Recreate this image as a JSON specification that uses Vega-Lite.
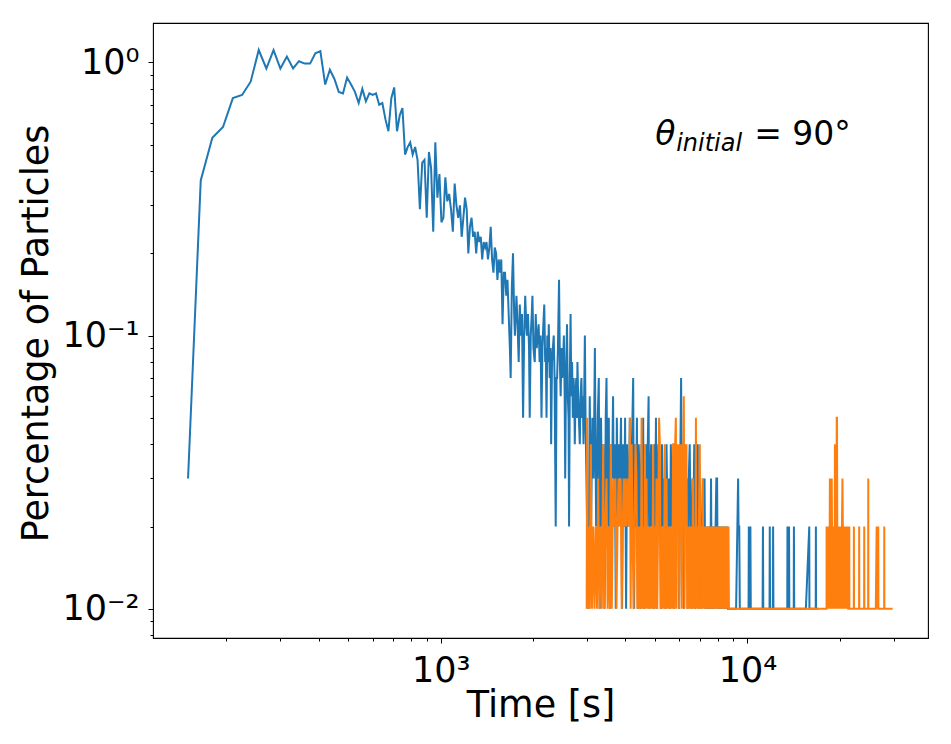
{
  "$schema": "https://vega.github.io/schema/vega-lite/v6.json",
  "width": 775,
  "height": 615,
  "autosize": {"type": "none"},
  "padding": {"left": 153, "top": 23, "right": 23, "bottom": 106},
  "background": "white",
  "datasets": {
    "blue": [
      {"t":150,"p":0.03},{"t":165,"p":0.37},{"t":180,"p":0.53},{"t":195,"p":0.58},{"t":210,"p":0.74},{"t":225,"p":0.76},{"t":240,"p":0.85},{"t":255,"p":1.11},{"t":270,"p":0.95},{"t":285,"p":1.11},
      {"t":300,"p":0.95},{"t":315,"p":1.05},{"t":330,"p":0.95},{"t":345,"p":1.01},{"t":360,"p":0.99},{"t":375,"p":0.99},{"t":390,"p":1.08},{"t":405,"p":1.1},{"t":420,"p":0.83},{"t":435,"p":0.94},
      {"t":450,"p":0.87},{"t":465,"p":0.78},{"t":480,"p":0.77},{"t":495,"p":0.88},{"t":510,"p":0.83},{"t":525,"p":0.78},{"t":540,"p":0.71},{"t":555,"p":0.8},{"t":570,"p":0.72},{"t":585,"p":0.77},
      {"t":600,"p":0.76},{"t":615,"p":0.77},{"t":630,"p":0.7},{"t":645,"p":0.71},{"t":660,"p":0.62},{"t":675,"p":0.56},{"t":690,"p":0.74},{"t":705,"p":0.81},{"t":720,"p":0.56},{"t":735,"p":0.64},
      {"t":750,"p":0.68},{"t":765,"p":0.46},{"t":780,"p":0.49},{"t":795,"p":0.51},{"t":810,"p":0.46},{"t":825,"p":0.49},{"t":840,"p":0.44},{"t":855,"p":0.29},{"t":870,"p":0.43},{"t":885,"p":0.44},
      {"t":900,"p":0.27},{"t":915,"p":0.47},{"t":930,"p":0.41},{"t":945,"p":0.24},{"t":960,"p":0.51},{"t":975,"p":0.32},{"t":990,"p":0.39},{"t":1005,"p":0.26},{"t":1020,"p":0.27},{"t":1035,"p":0.38},
      {"t":1050,"p":0.31},{"t":1065,"p":0.33},{"t":1080,"p":0.29},{"t":1095,"p":0.24},{"t":1110,"p":0.36},{"t":1125,"p":0.3},{"t":1140,"p":0.27},{"t":1155,"p":0.3},{"t":1170,"p":0.23},{"t":1185,"p":0.27},
      {"t":1200,"p":0.32},{"t":1215,"p":0.29},{"t":1230,"p":0.2},{"t":1245,"p":0.25},{"t":1260,"p":0.27},{"t":1275,"p":0.23},{"t":1290,"p":0.24},{"t":1305,"p":0.2},{"t":1320,"p":0.24},{"t":1335,"p":0.22},
      {"t":1350,"p":0.23},{"t":1365,"p":0.19},{"t":1380,"p":0.22},{"t":1395,"p":0.21},{"t":1410,"p":0.22},{"t":1425,"p":0.19},{"t":1440,"p":0.21},{"t":1455,"p":0.25},{"t":1470,"p":0.19},{"t":1485,"p":0.17},
      {"t":1500,"p":0.21},{"t":1515,"p":0.2},{"t":1530,"p":0.16},{"t":1545,"p":0.19},{"t":1560,"p":0.17},{"t":1575,"p":0.19},{"t":1590,"p":0.11},{"t":1605,"p":0.17},{"t":1620,"p":0.17},{"t":1635,"p":0.14},
      {"t":1650,"p":0.16},{"t":1665,"p":0.12},{"t":1680,"p":0.09},{"t":1690,"p":0.07},{"t":1705,"p":0.15},{"t":1720,"p":0.2},{"t":1735,"p":0.12},{"t":1745,"p":0.1},{"t":1765,"p":0.14},{"t":1780,"p":0.11},
      {"t":1795,"p":0.08},{"t":1810,"p":0.13},{"t":1825,"p":0.1},{"t":1840,"p":0.12},{"t":1855,"p":0.05},{"t":1870,"p":0.1},{"t":1885,"p":0.14},{"t":1900,"p":0.11},{"t":1910,"p":0.1},{"t":1925,"p":0.12},
      {"t":1940,"p":0.09},{"t":1950,"p":0.05},{"t":1965,"p":0.1},{"t":1980,"p":0.12},{"t":1990,"p":0.14},{"t":2005,"p":0.09},{"t":2025,"p":0.08},{"t":2040,"p":0.12},{"t":2055,"p":0.09},{"t":2070,"p":0.1},
      {"t":2085,"p":0.11},{"t":2100,"p":0.08},{"t":2115,"p":0.1},{"t":2130,"p":0.05},{"t":2145,"p":0.09},{"t":2160,"p":0.11},{"t":2175,"p":0.13},{"t":2190,"p":0.08},{"t":2200,"p":0.09},{"t":2212,"p":0.05},
      {"t":2225,"p":0.1},{"t":2240,"p":0.08},{"t":2250,"p":0.11},{"t":2265,"p":0.07},{"t":2280,"p":0.09},{"t":2290,"p":0.04},{"t":2305,"p":0.08},{"t":2320,"p":0.09},{"t":2335,"p":0.1},{"t":2350,"p":0.07},
      {"t":2370,"p":0.02},{"t":2385,"p":0.07},{"t":2395,"p":0.07},{"t":2410,"p":0.09},{"t":2430,"p":0.16},{"t":2445,"p":0.08},{"t":2460,"p":0.06},{"t":2475,"p":0.09},{"t":2490,"p":0.07},{"t":2505,"p":0.08},
      {"t":2520,"p":0.1},{"t":2535,"p":0.06},{"t":2545,"p":0.03},{"t":2560,"p":0.07},{"t":2580,"p":0.11},{"t":2595,"p":0.06},{"t":2610,"p":0.05},{"t":2620,"p":0.02},{"t":2635,"p":0.07},{"t":2650,"p":0.12},
      {"t":2665,"p":0.06},{"t":2680,"p":0.08},{"t":2695,"p":0.05},{"t":2710,"p":0.07},{"t":2725,"p":0.06},{"t":2735,"p":0.04},{"t":2750,"p":0.06},{"t":2765,"p":0.07},{"t":2780,"p":0.05},{"t":2790,"p":0.08},
      {"t":2805,"p":0.06},{"t":2820,"p":0.05},{"t":2840,"p":0.04},{"t":2855,"p":0.06},{"t":2875,"p":0.07},{"t":2890,"p":0.05},{"t":2905,"p":0.06},{"t":2920,"p":0.04},{"t":2935,"p":0.06},{"t":2950,"p":0.1},
      {"t":2965,"p":0.05},{"t":2985,"p":0.03},{"t":3000,"p":0.02},{"t":3030,"p":0.01},{"t":3060,"p":0.06},{"t":3090,"p":0.02},{"t":3120,"p":0.05},{"t":3150,"p":0.03},{"t":3180,"p":0.09},{"t":3210,"p":0.02},
      {"t":3235,"p":0.03},{"t":3250,"p":0.05},{"t":3275,"p":0.07},{"t":3300,"p":0.01},{"t":3330,"p":0.05},{"t":3360,"p":0.02},{"t":3390,"p":0.04},{"t":3420,"p":0.01},{"t":3450,"p":0.05},{"t":3470,"p":0.07},
      {"t":3500,"p":0.02},{"t":3530,"p":0.05},{"t":3560,"p":0.01},{"t":3590,"p":0.04},{"t":3620,"p":0.03},{"t":3645,"p":0.06},{"t":3670,"p":0.02},{"t":3695,"p":0.04},{"t":3720,"p":0.01},{"t":3750,"p":0.05},
      {"t":3780,"p":0.02},{"t":3810,"p":0.04},{"t":3840,"p":0.03},{"t":3870,"p":0.05},{"t":3900,"p":0.01},{"t":3930,"p":0.04},{"t":3960,"p":0.02},{"t":3990,"p":0.05},{"t":4020,"p":0.01},{"t":4050,"p":0.04},
      {"t":4080,"p":0.02},{"t":4110,"p":0.03},{"t":4135,"p":0.05},{"t":4165,"p":0.02},{"t":4200,"p":0.04},{"t":4240,"p":0.07},{"t":4270,"p":0.01},{"t":4300,"p":0.04},{"t":4330,"p":0.02},{"t":4360,"p":0.05},
      {"t":4390,"p":0.01},{"t":4420,"p":0.04},{"t":4450,"p":0.03},{"t":4480,"p":0.01},{"t":4510,"p":0.04},{"t":4540,"p":0.02},{"t":4570,"p":0.05},{"t":4600,"p":0.01},{"t":4630,"p":0.03},{"t":4660,"p":0.04},
      {"t":4700,"p":0.02},{"t":4730,"p":0.04},{"t":4760,"p":0.06},{"t":4790,"p":0.01},{"t":4820,"p":0.03},{"t":4850,"p":0.04},{"t":4880,"p":0.02},{"t":4910,"p":0.03},{"t":4940,"p":0.01},{"t":4970,"p":0.04},
      {"t":5000,"p":0.02},{"t":5030,"p":0.05},{"t":5060,"p":0.01},{"t":5090,"p":0.03},{"t":5120,"p":0.04},{"t":5150,"p":0.02},{"t":5180,"p":0.03},{"t":5220,"p":0.01},{"t":5265,"p":0.04},{"t":5310,"p":0.02},
      {"t":5355,"p":0.03},{"t":5400,"p":0.01},{"t":5445,"p":0.04},{"t":5490,"p":0.02},{"t":5535,"p":0.03},{"t":5580,"p":0.01},{"t":5625,"p":0.04},{"t":5670,"p":0.02},{"t":5715,"p":0.03},{"t":5760,"p":0.01},
      {"t":5805,"p":0.03},{"t":5850,"p":0.04},{"t":5895,"p":0.02},{"t":5940,"p":0.03},{"t":5985,"p":0.01},{"t":6030,"p":0.03},{"t":6075,"p":0.07},{"t":6120,"p":0.02},{"t":6165,"p":0.03},{"t":6210,"p":0.01},
      {"t":6255,"p":0.04},{"t":6300,"p":0.02},{"t":6345,"p":0.03},{"t":6390,"p":0.01},{"t":6435,"p":0.03},{"t":6480,"p":0.04},{"t":6525,"p":0.02},{"t":6570,"p":0.01},{"t":6615,"p":0.03},{"t":6660,"p":0.02},
      {"t":6705,"p":0.04},{"t":6750,"p":0.01},{"t":6795,"p":0.03},{"t":6840,"p":0.02},{"t":6885,"p":0.04},{"t":6930,"p":0.01},{"t":6975,"p":0.03},{"t":7020,"p":0.02},{"t":7065,"p":0.01},{"t":7110,"p":0.02},
      {"t":7155,"p":0.03},{"t":7200,"p":0.02},{"t":7245,"p":0.03},{"t":7290,"p":0.01},{"t":7335,"p":0.02},{"t":7380,"p":0.01},{"t":7425,"p":0.02},{"t":7470,"p":0.01},{"t":7515,"p":0.02},{"t":7560,"p":0.01},
      {"t":7605,"p":0.03},{"t":7650,"p":0.01},{"t":7695,"p":0.02},{"t":7740,"p":0.01},{"t":7785,"p":0.02},{"t":7830,"p":0.01},{"t":7870,"p":0.02},{"t":7915,"p":0.03},{"t":7960,"p":0.03},{"t":8005,"p":0.01},
      {"t":8050,"p":0.02},{"t":8095,"p":0.01},{"t":8140,"p":0.02},{"t":8185,"p":0.01},{"t":8230,"p":0.02},{"t":8275,"p":0.01},{"t":8320,"p":0.02},{"t":8365,"p":0.01},{"t":8410,"p":0.02},{"t":8455,"p":0.01},
      {"t":8500,"p":0.02},{"t":8545,"p":0.01},{"t":8590,"p":0.02},{"t":8640,"p":0.01},{"t":8700,"p":0.01},{"t":9180,"p":0.01},{"t":9320,"p":0.03},{"t":9350,"p":0.02},{"t":9400,"p":0.02},{"t":9440,"p":0.01},
      {"t":10080,"p":0.01},{"t":10100,"p":0.02},{"t":10120,"p":0.01},{"t":10220,"p":0.02},{"t":10250,"p":0.01},{"t":11200,"p":0.01},{"t":11230,"p":0.02},{"t":11260,"p":0.01},{"t":11800,"p":0.01},{"t":11820,"p":0.02},
      {"t":11850,"p":0.01},{"t":12100,"p":0.01},{"t":12120,"p":0.02},{"t":12150,"p":0.01},{"t":13480,"p":0.01},{"t":13500,"p":0.02},{"t":13530,"p":0.01},{"t":13660,"p":0.02},{"t":13690,"p":0.01},{"t":14150,"p":0.01},
      {"t":14170,"p":0.02},{"t":14200,"p":0.01},{"t":15500,"p":0.01},{"t":15900,"p":0.02},{"t":15920,"p":0.01},{"t":16690,"p":0.01},{"t":16710,"p":0.02},{"t":16730,"p":0.01},{"t":17000,"p":0.01}
    ],
    "orange": [
      {"t":2990,"p":0.01},{"t":3000,"p":0.05},{"t":3015,"p":0.01},{"t":3030,"p":0.02},{"t":3060,"p":0.01},{"t":3085,"p":0.04},{"t":3110,"p":0.01},{"t":3140,"p":0.02},{"t":3170,"p":0.01},{"t":3200,"p":0.02},
      {"t":3230,"p":0.01},{"t":3260,"p":0.03},{"t":3290,"p":0.01},{"t":3320,"p":0.02},{"t":3350,"p":0.01},{"t":3385,"p":0.04},{"t":3410,"p":0.01},{"t":3440,"p":0.02},{"t":3470,"p":0.03},{"t":3500,"p":0.01},
      {"t":3530,"p":0.02},{"t":3560,"p":0.01},{"t":3585,"p":0.04},{"t":3610,"p":0.01},{"t":3650,"p":0.03},{"t":3680,"p":0.02},{"t":3710,"p":0.03},{"t":3740,"p":0.01},{"t":3770,"p":0.02},{"t":3800,"p":0.03},
      {"t":3830,"p":0.02},{"t":3860,"p":0.03},{"t":3890,"p":0.01},{"t":3920,"p":0.02},{"t":3950,"p":0.03},{"t":3980,"p":0.02},{"t":4010,"p":0.03},{"t":4040,"p":0.02},{"t":4080,"p":0.03},{"t":4110,"p":0.02},
      {"t":4135,"p":0.05},{"t":4160,"p":0.01},{"t":4190,"p":0.04},{"t":4220,"p":0.02},{"t":4250,"p":0.01},{"t":4280,"p":0.02},{"t":4315,"p":0.04},{"t":4345,"p":0.03},{"t":4375,"p":0.01},{"t":4405,"p":0.02},
      {"t":4435,"p":0.01},{"t":4465,"p":0.02},{"t":4490,"p":0.01},{"t":4515,"p":0.05},{"t":4545,"p":0.01},{"t":4575,"p":0.02},{"t":4600,"p":0.01},{"t":4630,"p":0.04},{"t":4655,"p":0.01},{"t":4685,"p":0.03},
      {"t":4715,"p":0.01},{"t":4745,"p":0.02},{"t":4775,"p":0.01},{"t":4805,"p":0.02},{"t":4835,"p":0.01},{"t":4865,"p":0.02},{"t":4895,"p":0.01},{"t":4925,"p":0.04},{"t":4955,"p":0.01},{"t":4985,"p":0.02},
      {"t":5020,"p":0.01},{"t":5050,"p":0.03},{"t":5080,"p":0.01},{"t":5110,"p":0.02},{"t":5150,"p":0.05},{"t":5180,"p":0.04},{"t":5210,"p":0.01},{"t":5245,"p":0.02},{"t":5280,"p":0.01},{"t":5310,"p":0.02},
      {"t":5340,"p":0.01},{"t":5375,"p":0.04},{"t":5410,"p":0.01},{"t":5445,"p":0.03},{"t":5480,"p":0.01},{"t":5515,"p":0.02},{"t":5550,"p":0.01},{"t":5585,"p":0.02},{"t":5620,"p":0.01},{"t":5655,"p":0.02},
      {"t":5690,"p":0.01},{"t":5720,"p":0.04},{"t":5750,"p":0.04},{"t":5780,"p":0.01},{"t":5810,"p":0.04},{"t":5840,"p":0.05},{"t":5870,"p":0.01},{"t":5900,"p":0.04},{"t":5930,"p":0.02},{"t":5960,"p":0.04},
      {"t":5990,"p":0.01},{"t":6020,"p":0.04},{"t":6050,"p":0.02},{"t":6080,"p":0.04},{"t":6110,"p":0.01},{"t":6140,"p":0.04},{"t":6170,"p":0.03},{"t":6200,"p":0.06},{"t":6230,"p":0.01},{"t":6260,"p":0.04},
      {"t":6290,"p":0.02},{"t":6325,"p":0.04},{"t":6360,"p":0.01},{"t":6400,"p":0.02},{"t":6440,"p":0.01},{"t":6480,"p":0.02},{"t":6520,"p":0.01},{"t":6560,"p":0.02},{"t":6600,"p":0.01},{"t":6640,"p":0.03},
      {"t":6680,"p":0.01},{"t":6720,"p":0.02},{"t":6760,"p":0.01},{"t":6790,"p":0.05},{"t":6820,"p":0.01},{"t":6860,"p":0.02},{"t":6900,"p":0.01},{"t":6940,"p":0.02},{"t":6990,"p":0.04},{"t":7030,"p":0.01},
      {"t":7070,"p":0.02},{"t":7110,"p":0.01},{"t":7150,"p":0.03},{"t":7190,"p":0.01},{"t":7230,"p":0.02},{"t":7270,"p":0.01},{"t":7310,"p":0.02},{"t":7350,"p":0.01},{"t":7390,"p":0.02},{"t":7430,"p":0.01},
      {"t":7470,"p":0.02},{"t":7510,"p":0.01},{"t":7550,"p":0.02},{"t":7590,"p":0.01},{"t":7630,"p":0.02},{"t":7670,"p":0.01},{"t":7710,"p":0.02},{"t":7750,"p":0.01},{"t":7790,"p":0.02},{"t":7830,"p":0.01},
      {"t":7870,"p":0.02},{"t":7910,"p":0.01},{"t":7950,"p":0.02},{"t":7990,"p":0.01},{"t":8030,"p":0.02},{"t":8070,"p":0.01},{"t":8110,"p":0.02},{"t":8150,"p":0.01},{"t":8190,"p":0.02},{"t":8230,"p":0.01},
      {"t":8270,"p":0.02},{"t":8310,"p":0.01},{"t":8350,"p":0.02},{"t":8390,"p":0.01},{"t":8430,"p":0.02},{"t":8470,"p":0.01},{"t":8510,"p":0.02},{"t":8550,"p":0.01},{"t":8590,"p":0.02},{"t":8630,"p":0.01},
      {"t":8670,"p":0.02},{"t":8700,"p":0.01},{"t":18100,"p":0.01},{"t":18110,"p":0.02},{"t":18150,"p":0.01},{"t":18190,"p":0.02},{"t":18230,"p":0.01},{"t":18270,"p":0.02},{"t":18310,"p":0.01},{"t":18350,"p":0.02},
      {"t":18400,"p":0.01},{"t":18450,"p":0.02},{"t":18500,"p":0.01},{"t":18560,"p":0.03},{"t":18600,"p":0.02},{"t":18650,"p":0.01},{"t":18700,"p":0.02},{"t":18760,"p":0.01},{"t":18820,"p":0.03},{"t":18860,"p":0.02},
      {"t":18900,"p":0.01},{"t":18950,"p":0.02},{"t":19000,"p":0.01},{"t":19050,"p":0.02},{"t":19100,"p":0.01},{"t":19150,"p":0.02},{"t":19200,"p":0.01},{"t":19250,"p":0.02},{"t":19280,"p":0.04},{"t":19320,"p":0.02},
      {"t":19380,"p":0.01},{"t":19430,"p":0.02},{"t":19480,"p":0.01},{"t":19540,"p":0.05},{"t":19580,"p":0.05},{"t":19620,"p":0.02},{"t":19670,"p":0.01},{"t":19720,"p":0.02},{"t":19780,"p":0.01},{"t":19840,"p":0.02},
      {"t":19900,"p":0.01},{"t":19960,"p":0.02},{"t":20020,"p":0.01},{"t":20080,"p":0.02},{"t":20140,"p":0.01},{"t":20200,"p":0.02},{"t":20260,"p":0.01},{"t":20320,"p":0.02},{"t":20400,"p":0.03},{"t":20460,"p":0.02},
      {"t":20520,"p":0.01},{"t":20600,"p":0.02},{"t":20680,"p":0.01},{"t":20760,"p":0.02},{"t":20840,"p":0.01},{"t":20920,"p":0.02},{"t":21000,"p":0.01},{"t":21080,"p":0.02},{"t":21160,"p":0.01},{"t":21250,"p":0.02},
      {"t":21300,"p":0.01},{"t":21450,"p":0.01},{"t":21470,"p":0.02},{"t":21490,"p":0.01},{"t":22210,"p":0.01},{"t":22230,"p":0.02},{"t":22250,"p":0.01},{"t":23110,"p":0.01},{"t":23130,"p":0.02},{"t":23150,"p":0.01},
      {"t":24000,"p":0.01},{"t":24020,"p":0.02},{"t":24040,"p":0.01},{"t":24740,"p":0.01},{"t":24760,"p":0.03},{"t":24780,"p":0.01},{"t":26200,"p":0.01},{"t":26370,"p":0.02},{"t":26500,"p":0.01},{"t":26690,"p":0.02},
      {"t":26720,"p":0.01},{"t":27900,"p":0.01},{"t":27920,"p":0.02},{"t":27940,"p":0.01},{"t":29740,"p":0.01}
    ],
    "note": [
      {"t": 5000, "p": 0.5}
    ]
  },
  "layer": [
    {
      "data": {"name": "blue"},
      "mark": {"type": "line", "color": "#1f77b4", "strokeWidth": 2},
      "encoding": {
        "x": {
          "field": "t",
          "type": "quantitative",
          "scale": {"type": "log", "domain": [115.3, 38770], "nice": false},
          "axis": {
            "values": [200, 300, 400, 500, 600, 700, 800, 900, 1000, 2000, 3000, 4000, 5000, 6000, 7000, 8000, 9000, 10000, 20000, 30000],
            "labelExpr": "datum.value == 1000 ? '10³' : datum.value == 10000 ? '10⁴' : ''",
            "tickSize": {"condition": {"test": "datum.value == 1000 || datum.value == 10000", "value": 5}, "value": 3},
            "labelFontSize": 35,
            "labelBaseline": "alphabetic",
            "labelPadding": 38,
            "labelOverlap": false,
            "labelFlush": false,
            "title": "Time [s]",
            "titleFontSize": 36.5,
            "titleX": 387.5,
            "titleY": 78,
            "titleAlign": "center",
            "titleBaseline": "alphabetic"
          }
        },
        "y": {
          "field": "p",
          "type": "quantitative",
          "scale": {"type": "log", "domain": [0.00782, 1.394], "nice": false},
          "axis": {
            "values": [0.008, 0.009, 0.01, 0.02, 0.03, 0.04, 0.05, 0.06, 0.07, 0.08, 0.09, 0.1, 0.2, 0.3, 0.4, 0.5, 0.6, 0.7, 0.8, 0.9, 1],
            "labelExpr": "datum.value == 1 ? '10⁰' : datum.value == 0.1 ? '10⁻¹' : datum.value == 0.01 ? '10⁻²' : ''",
            "tickSize": {"condition": {"test": "datum.value == 1 || datum.value == 0.1 || datum.value == 0.01", "value": 5}, "value": 3},
            "labelFontSize": 35,
            "labelBaseline": "middle",
            "labelPadding": 9,
            "labelOverlap": false,
            "labelFlush": false,
            "title": "Percentage of Particles",
            "titleFontSize": 36.5,
            "titleAngle": -90,
            "titleX": -106,
            "titleY": 310,
            "titleAlign": "center",
            "titleBaseline": "alphabetic"
          }
        }
      }
    },
    {
      "data": {"name": "orange"},
      "mark": {"type": "line", "color": "#ff7f0e", "strokeWidth": 2},
      "encoding": {
        "x": {"field": "t", "type": "quantitative"},
        "y": {"field": "p", "type": "quantitative"}
      }
    },
    {
      "data": {"name": "note"},
      "mark": {"type": "text", "text": "θ", "fontSize": 33, "fontStyle": "italic", "align": "left", "baseline": "alphabetic", "color": "black"},
      "encoding": {
        "x": {"field": "t", "type": "quantitative"},
        "y": {"field": "p", "type": "quantitative"}
      }
    },
    {
      "data": {"name": "note"},
      "mark": {"type": "text", "text": "initial", "fontSize": 24, "fontStyle": "italic", "align": "left", "baseline": "alphabetic", "dx": 21, "dy": 6, "color": "black"},
      "encoding": {
        "x": {"field": "t", "type": "quantitative"},
        "y": {"field": "p", "type": "quantitative"}
      }
    },
    {
      "data": {"name": "note"},
      "mark": {"type": "text", "text": "= 90°", "fontSize": 33, "align": "left", "baseline": "alphabetic", "dx": 99, "color": "black"},
      "encoding": {
        "x": {"field": "t", "type": "quantitative"},
        "y": {"field": "p", "type": "quantitative"}
      }
    }
  ],
  "config": {
    "font": "DejaVu Sans",
    "view": {"stroke": "black", "strokeWidth": 1.1},
    "axis": {
      "grid": false,
      "domain": false,
      "tickColor": "black",
      "tickWidth": 1,
      "labelColor": "black",
      "titleColor": "black",
      "titleFontWeight": "normal",
      "labelFont": "DejaVu Sans",
      "titleFont": "DejaVu Sans"
    }
  }
}
